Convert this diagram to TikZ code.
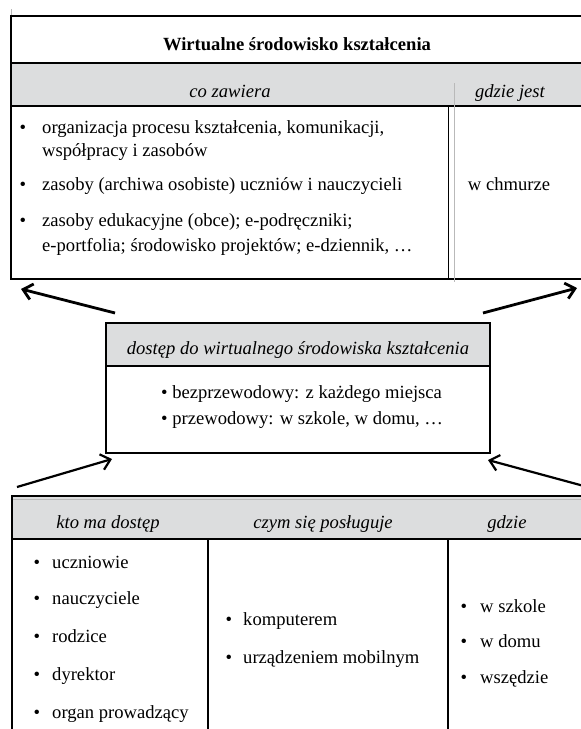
\documentclass[tikz,border=0pt]{standalone}
\usepackage{fontspec}
\setmainfont{Liberation Serif}
\usetikzlibrary{arrows.meta}
\definecolor{hdr}{RGB}{220,221,222}
\definecolor{thingray}{RGB}{185,185,185}
\newcommand\fs{\fontsize{18.6}{24}\selectfont}
\begin{document}
\begin{tikzpicture}[x=1pt,y=-1pt,
  txt/.style={font=\fs, inner sep=0pt},
  lt/.style={txt, anchor=base west},
  ct/.style={txt, anchor=base},
  it/.style={font=\fs\itshape, inner sep=0pt, anchor=base},
  bd/.style={line width=1.8pt},
  thinline/.style={draw=thingray, line width=0.8pt},
  arrA/.style={line width=2.8pt, -{Straight Barb[length=9pt,width=16pt]}},
  arrB/.style={line width=2.2pt, -{Straight Barb[length=9pt,width=16pt]}},
  ]
\useasboundingbox (0,0) rectangle (581,729);
\fill[white] (0,0) rectangle (581,729);

% ---------- top box ----------
\fill[hdr] (11,63) rectangle (585,106);
\draw[thinline] (11,9) -- (11,16);
\draw[bd] (585,15.7) -- (11,15.7) -- (11,279) -- (585,279);
\draw[bd] (11,63) -- (585,63);
\draw[bd] (11,106) -- (585,106);
\draw[bd] (448.5,106) -- (448.5,279);
\draw[thinline] (454,83) -- (454,282);

\node[txt, font=\fs\bfseries, anchor=base] (title) at (297,50) {Wirtualne środowisko kształcenia};
\node[it] (hco) at (230,97) {co zawiera};
\node[it] (hgdzie) at (510,97) {gdzie jest};

\node[ct] (b1) at (23,133) {\textbullet};
\node[lt] (t1a) at (42,133) {organizacja procesu kształcenia, komunikacji,};
\node[lt] (t1b) at (42,156.5) {współpracy i zasobów};
\node[ct] (b2) at (23,190.5) {\textbullet};
\node[lt] (t2) at (42,190.5) {zasoby (archiwa osobiste) uczniów i nauczycieli};
\node[ct] (b3) at (23,226.5) {\textbullet};
\node[lt] (t3a) at (42,226.5) {zasoby edukacyjne (obce); e-podręczniki;};
\node[lt] (t3b) at (42,251.5) {e-portfolia; środowisko projektów; e-dziennik, …};
\node[ct] (chm) at (509,190.5) {w chmurze};

% ---------- middle box ----------
\fill[hdr] (106,323) rectangle (490,366);
\draw[bd] (106,323) rectangle (490,453);
\draw[bd] (106,366) -- (490,366);
\node[it] (hdost) at (298,354) {dostęp do wirtualnego środowiska kształcenia};
\node[lt] (m1) at (161,398) {\textbullet\ bezprzewodowy: z każdego miejsca};
\node[lt] (m2) at (161,424) {\textbullet\ przewodowy: w szkole, w domu, …};

% ---------- bottom table ----------
\fill[hdr] (12,496) rectangle (585,539);
\draw[thinline] (13,499.5) -- (585,499.5);
\draw[bd] (585,496) -- (12,496) -- (12,732);
\draw[bd] (12,539) -- (585,539);
\draw[bd] (208,539) -- (208,732);
\draw[bd] (448,539) -- (448,732);

\node[it] (hkto) at (108,528) {kto ma dostęp};
\node[it] (hczym) at (323,528) {czym się posługuje};
\node[it] (hgdz) at (507,528) {gdzie};

\node[ct] (lb1) at (37,568.5) {\textbullet};
\node[lt] (l1) at (52,568.5) {uczniowie};
\node[ct] (lb2) at (37,604.5) {\textbullet};
\node[lt] (l2) at (52,604.5) {nauczyciele};
\node[ct] (lb3) at (37,642.5) {\textbullet};
\node[lt] (l3) at (52,642.5) {rodzice};
\node[ct] (lb4) at (37,680.5) {\textbullet};
\node[lt] (l4) at (52,680.5) {dyrektor};
\node[ct] (lb5) at (37,718.5) {\textbullet};
\node[lt] (l5) at (52,718.5) {organ prowadzący};

\node[ct] (cb1) at (229,625) {\textbullet};
\node[lt] (c1) at (243,625) {komputerem};
\node[ct] (cb2) at (229,663) {\textbullet};
\node[lt] (c2) at (243,663) {urządzeniem mobilnym};

\node[ct] (rb1) at (464,612) {\textbullet};
\node[lt] (r1) at (480,612) {w szkole};
\node[ct] (rb2) at (464,647) {\textbullet};
\node[lt] (r2) at (480,647) {w domu};
\node[ct] (rb3) at (464,683) {\textbullet};
\node[lt] (r3) at (480,683) {wszędzie};

% ---------- arrows ----------
\coordinate (ulT) at (115,313);
\coordinate (ulH) at (21,289);
\coordinate (urT) at (483,313);
\coordinate (urH) at (577,288);
\coordinate (llT) at (17,487);
\coordinate (llH) at (112,459);
\coordinate (lrT) at (595,489);
\coordinate (lrH) at (488,460);
\draw[arrA] (ulT) -- (ulH);
\draw[arrA] (urT) -- (urH);
\draw[arrB] (llT) -- (llH);
\draw[arrB] (lrT) -- (lrH);
\end{tikzpicture}
\end{document}
